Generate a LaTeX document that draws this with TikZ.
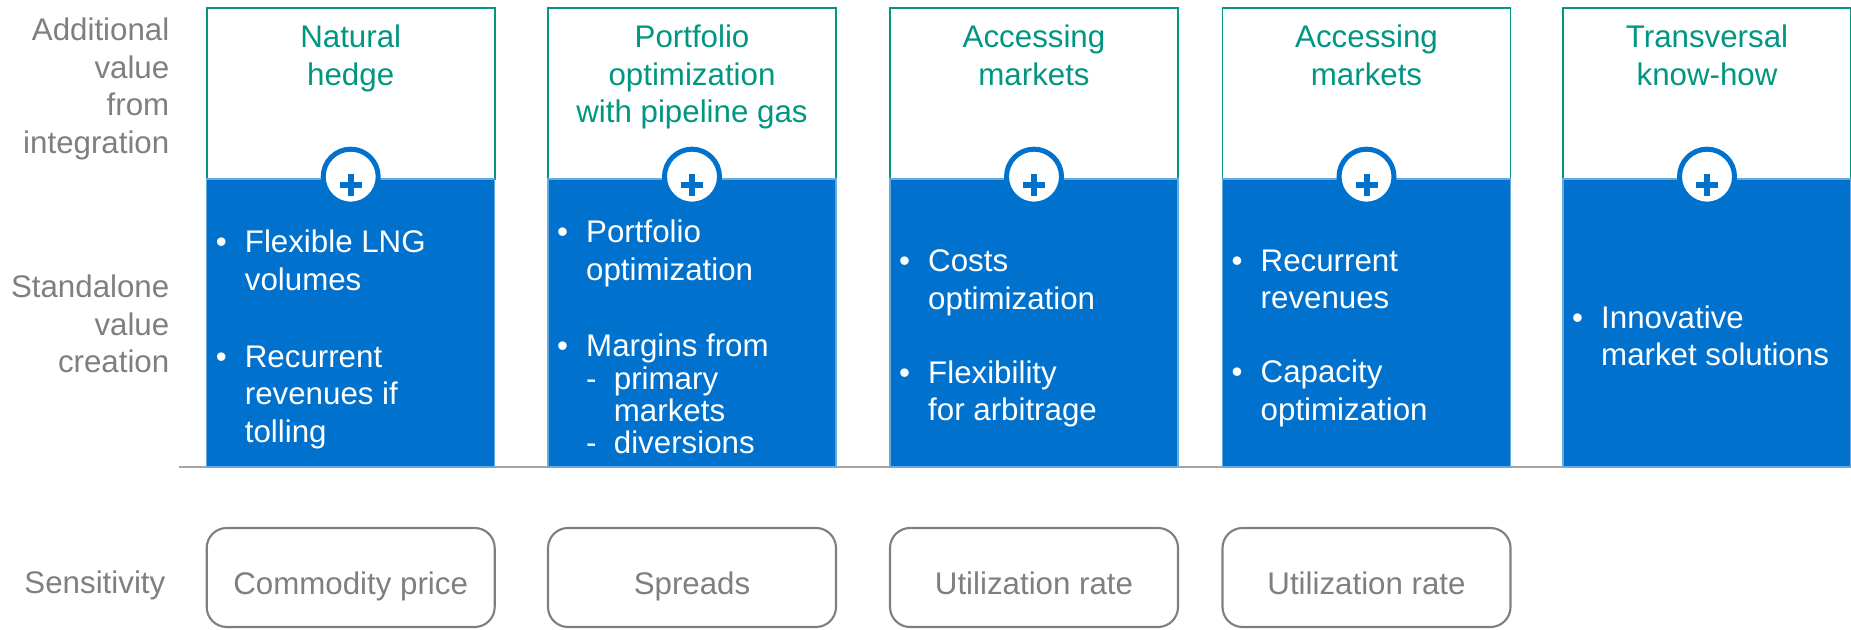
\documentclass[tikz,border=0pt]{standalone}
\usepackage{fontspec}
\setmainfont{Liberation Sans}
\usepackage{tikz}

\definecolor{xanhla}{RGB}{0,150,130}
\definecolor{xanhduong}{RGB}{0,114,206}
\definecolor{xam}{RGB}{127,127,127}
\newcommand{\gach}{\makebox[0.291cm][l]{\textbullet}}
\newcommand{\lui}{\hspace*{0.291cm}}
\newcommand{\phu}{\makebox[0.277cm][l]{-}}
\newcommand{\luiphu}{\hspace*{0.568cm}}

\begin{document}
\begin{tikzpicture}[
    nhan/.style={font=\fontsize{8.9}{10.7}\selectfont, inner sep=0pt},
    tieude/.style={nhan, text=xanhla, align=center, anchor=north},
    ytuong/.style={nhan, text=white, align=left, anchor=north west},
    trai/.style={nhan, text=xam, align=right, anchor=north east},
    dodang/.style={nhan, text=xam, draw=xam, line width=0.6pt, rounded corners=0.2cm,
        minimum width=2.88cm, minimum height=0.99cm, text height=10.4pt, text depth=1pt},
    cong/.style={circle, draw=xanhduong, fill=white, line width=0.05cm,
        minimum size=0.55cm, inner sep=0pt}]
        \useasboundingbox (0,0) rectangle (18.51,6.30);

        % Đường nền
        \draw[line width=0.6pt, gray!70] (1.79,1.63) -- (18.51,1.63);

        % Năm cột: khung trắng, phần xanh, dấu cộng
        \foreach \i/\x in {1/2.067, 2/5.48, 3/8.90, 4/12.225, 5/15.63} {
            \draw[xanhla, line width=0.5pt, fill=white] (\x,4.51) rectangle ++(2.88,1.71);
            \filldraw[fill=xanhduong, draw=xanhduong!60!white, line width=0.4pt] (\x,1.63) rectangle ++(2.88,2.88);
            \node[cong] (p\i) at (\x+1.44,4.533) {};
            \draw[xanhduong, line width=0.06cm] ([xshift=-0.11cm, yshift=-0.083cm]p\i.center) -- ++(0.22,0);
            \draw[xanhduong, line width=0.06cm] ([yshift=-0.193cm]p\i.center) -- ++(0,0.22);
        }

        % Tiêu đề
        \node[tieude] (t1) at (3.507,6.056) {Natural\\hedge};
        \node[tieude] (t2) at (6.92,6.056) {Portfolio\\optimization\\with pipeline gas};
        \node[tieude] (t3) at (10.34,6.056) {Accessing\\markets};
        \node[tieude] (t4) at (13.665,6.056) {Accessing\\markets};
        \node[tieude] (t5) at (17.07,6.056) {Transversal\\know-how};

        % Nội dung các cột
        \node[ytuong] (b1) at (2.151,4.009) {\gach Flexible LNG\\\lui volumes\\[11.3pt]\gach Recurrent\\\lui revenues if\\\lui tolling};
        \node[ytuong] (b2) at (5.564,4.109) {\gach Portfolio\\\lui optimization\\[11.1pt]\gach Margins from\\[-1.5pt]\lui\phu primary\\[-1.5pt]\luiphu markets\\[-1.5pt]\lui\phu diversions};
        \node[ytuong] (b3) at (8.984,3.809) {\gach Costs\\\lui optimization\\[10.3pt]\gach Flexibility\\\lui for arbitrage};
        \node[ytuong] (b4) at (12.309,3.809) {\gach Recurrent\\\lui revenues\\[10.3pt]\gach Capacity\\\lui optimization};
        \node[ytuong] (b5) at (15.714,3.253) {\gach Innovative\\\lui market solutions};

        % Nhãn bên trái
        \node[trai] (l1) at (1.70,6.126) {Additional\\value\\from\\integration};
        \node[trai] (l2) at (1.70,3.559) {Standalone\\value\\creation};
        \node[nhan, text=xam, anchor=base east] (l3) at (1.66,0.367) {Sensitivity};

        % Độ nhạy
        \node[dodang] (s1) at (3.507,0.525) {Commodity price};
        \node[dodang] (s2) at (6.92,0.525) {Spreads};
        \node[dodang] (s3) at (10.34,0.525) {Utilization rate};
        \node[dodang] (s4) at (13.665,0.525) {Utilization rate};
    \end{tikzpicture}
\end{document}
